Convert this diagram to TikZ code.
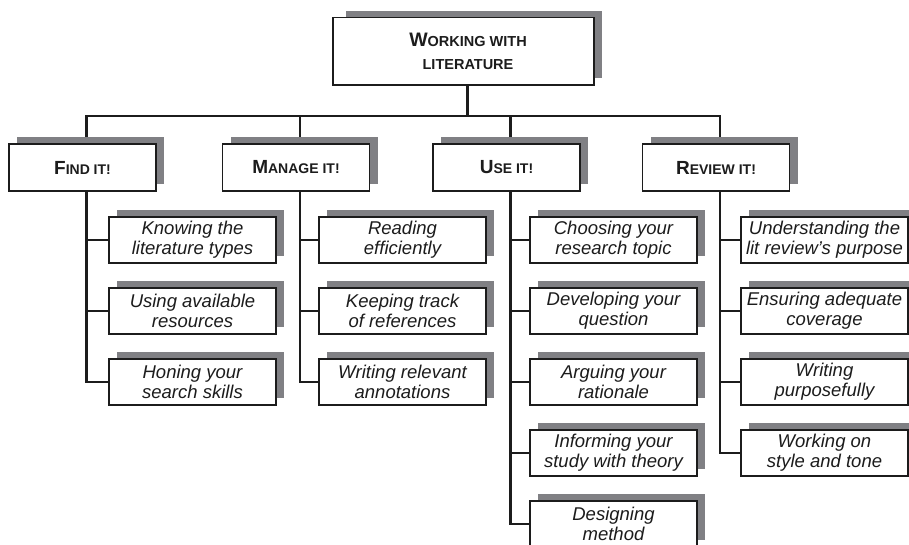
\documentclass[tikz,border=0pt]{standalone}
\usepackage{fontspec}
\setmainfont{Liberation Sans}
\usetikzlibrary{shadows,backgrounds}

\definecolor{shade}{RGB}{128,128,132}
\definecolor{ink}{RGB}{28,28,28}

% smaller capitals for the rest of a heading word
\newcommand\lowcaps[2][14]{{\fontsize{#1}{16}\selectfont #2}}

\tikzset{
  boxbase/.style={rectangle, draw=ink, line width=1.4pt, fill=white,
    inner sep=0pt, text=ink, align=center},
  boxshadow/.style={drop shadow={shadow xshift=8pt, shadow yshift=7pt,
    opacity=1, fill=shade}},
  rootbox/.style={boxbase, drop shadow={shadow xshift=10.5pt,
    shadow yshift=6.7pt, shadow scale=0.98, opacity=1, fill=shade},
    minimum width=261pt, minimum height=67.7pt,
    font=\bfseries\fontsize{19.5}{23}\selectfont},
  headbox/.style={boxbase, boxshadow, minimum width=147pt,
    minimum height=47pt, font=\bfseries\fontsize{19}{22}\selectfont},
  itembox/.style={boxbase, boxshadow, minimum width=167pt,
    minimum height=46pt, font=\itshape\fontsize{18.5}{19.8}\selectfont},
  wire/.style={draw=ink, line width=2.9pt, line cap=rect},
}

\begin{document}
\begin{tikzpicture}[x=1pt,y=-1pt]
\useasboundingbox (0,0) rectangle (909,545);

% root
\node[rootbox] (root) at (463.5,51.2)
  {\hspace*{9pt}W\lowcaps[14.5]{ORKING WITH}\\\hspace*{9pt}\lowcaps[14.5]{LITERATURE}};

% headings
\node[headbox] (find)   at (82.5,167.5) {F\lowcaps{IND IT!}};
\node[headbox] (manage) at (296,167.5)  {M\lowcaps{ANAGE IT!}};
\node[headbox] (use)    at (506.5,167.5){U\lowcaps{SE IT!}};
\node[headbox] (review) at (716,167.5)  {R\lowcaps{EVIEW IT!}};

% Find it!
\node[itembox] (find1) at (192.5,240) {Knowing the\\literature types};
\node[itembox] (find2) at (192.5,311) {Using available\\resources};
\node[itembox] (find3) at (192.5,382) {Honing your\\search skills};

% Manage it!
\node[itembox] (manage1) at (402.5,240) {Reading\\efficiently};
\node[itembox] (manage2) at (402.5,311) {Keeping track\\of references};
\node[itembox] (manage3) at (402.5,382) {Writing relevant\\annotations};

% Use it!
\node[itembox] (use1) at (613.5,240) {Choosing your\\research topic};
\node[itembox] (use2) at (613.5,311) {Developing your\\question};
\node[itembox] (use3) at (613.5,382) {Arguing your\\rationale};
\node[itembox] (use4) at (613.5,453) {Informing your\\study with theory};
\node[itembox] (use5) at (613.5,524) {Designing\\method};

% Review it!
\node[itembox] (review1) at (824.5,240) {Understanding the\\lit review’s purpose};
\node[itembox] (review2) at (824.5,311) {Ensuring adequate\\coverage};
\node[itembox] (review3) at (824.5,382) {Writing\\purposefully};
\node[itembox] (review4) at (824.5,453) {Working on\\style and tone};

% trunk points, centred on box plus shadow
\coordinate (bus) at (0,116);
\coordinate (tRoot)   at ([xshift=4pt]root.south);
\coordinate (tFind)   at ([xshift=4pt]find.south);
\coordinate (tManage) at ([xshift=4pt]manage.south);
\coordinate (tUse)    at ([xshift=4pt]use.south);
\coordinate (tReview) at ([xshift=4pt]review.south);

\begin{scope}[on background layer]
  \draw[wire] (tRoot) -- (tRoot |- bus);
  \draw[wire] (tFind |- bus) -- (tReview |- bus);
  \foreach \t/\h in {tFind/find, tManage/manage, tUse/use, tReview/review}
    \draw[wire] (\t |- bus) -- (\t |- \h.north);
  % branches
  \draw[wire] (tFind) |- (find3.west);
  \draw[wire] (tFind |- find1.west) -- (find1.west);
  \draw[wire] (tFind |- find2.west) -- (find2.west);
  \draw[wire] (tManage) |- (manage3.west);
  \draw[wire] (tManage |- manage1.west) -- (manage1.west);
  \draw[wire] (tManage |- manage2.west) -- (manage2.west);
  \draw[wire] (tUse) |- (use5.west);
  \foreach \n in {1,2,3,4}
    \draw[wire] (tUse |- use\n.west) -- (use\n.west);
  \draw[wire] (tReview) |- (review4.west);
  \foreach \n in {1,2,3}
    \draw[wire] (tReview |- review\n.west) -- (review\n.west);
\end{scope}
\end{tikzpicture}
\end{document}
